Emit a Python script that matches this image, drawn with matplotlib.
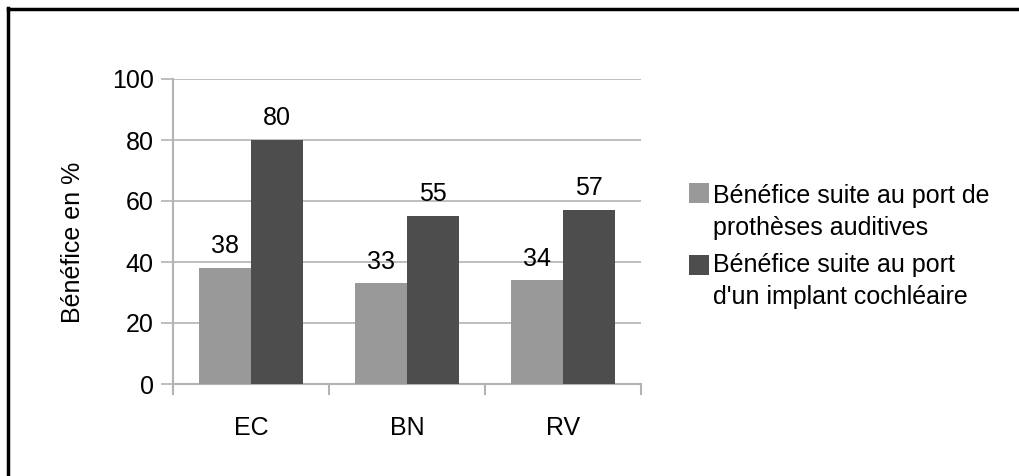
import matplotlib
matplotlib.use("Agg")
import matplotlib.pyplot as plt
import numpy as np
from matplotlib.lines import Line2D
from matplotlib.patches import Rectangle

plt.rcParams['font.family'] = ['Liberation Sans', 'DejaVu Sans']

categories = ["EC", "BN", "RV"]
protheses = [38, 33, 34]
implant = [80, 55, 57]
series_labels = ["Bénéfice suite au port de\nprothèses auditives",
                 "Bénéfice suite au port\nd'un implant cochléaire"]
series_colors = ["#999999", "#4d4d4d"]
yticks = [0, 20, 40, 60, 80, 100]

W, H = 1020, 476
FS = 18

fig = plt.figure(figsize=(W / 100, H / 100), dpi=100)
ax = fig.add_axes([173 / W, 1 - 384 / H, (641 - 173) / W, (384 - 79) / H])

x = np.arange(len(categories))
w = 1 / 3
b1 = ax.bar(x - w / 2, protheses, w, color=series_colors[0], zorder=3)
b2 = ax.bar(x + w / 2, implant, w, color=series_colors[1], zorder=3)

for bars, vals in ((b1, protheses), (b2, implant)):
    for r, v in zip(bars, vals):
        ax.text(r.get_x() + r.get_width() / 2, v + 3.2, str(v), ha="center", va="bottom",
                fontsize=FS, color="black")

ax.set_xlim(-0.5, 2.5)
ax.set_ylim(0, 100)
ax.set_yticks(yticks)
ax.set_yticklabels([str(t) for t in yticks], fontsize=FS)
ax.set_xticks(x)
ax.set_xticklabels(categories, fontsize=FS)
ax.tick_params(axis="x", length=0, pad=23)
ax.tick_params(axis="y", length=9, color="#b3b3b3", width=1.2, pad=5)
# category separators below the baseline
for xb in (-0.5, 0.5, 1.5, 2.5):
    ax.plot([xb, xb], [0, -3.2], color="#b3b3b3", lw=1.5, clip_on=False, zorder=2)
ax.grid(axis="y", color="#b3b3b3", lw=1.2, zorder=0)
for s in ("top", "right"):
    ax.spines[s].set_visible(False)
for s in ("left", "bottom"):
    ax.spines[s].set_color("#b3b3b3")
    ax.spines[s].set_linewidth(1.5)

ax.set_ylabel("Bénéfice en %", fontsize=FS)
ax.yaxis.set_label_coords((85 - 173) / (641 - 173), 0.465)

# legend: square aligned with the first line of each label
sq_tops = [183, 255]
text_centers = [212, 281]
for lab, col, top, tc in zip(series_labels, series_colors, sq_tops, text_centers):
    fig.add_artist(Rectangle((689 / W, 1 - (top + 20) / H), 20 / W, 20 / H,
                             transform=fig.transFigure, facecolor=col, edgecolor="none"))
    fig.text(713 / W, 1 - tc / H, lab, fontsize=FS, ha="left", va="center",
             linespacing=1.38)

# outer frame
fig.add_artist(Line2D([8 / W, 8 / W], [0, 1 - 8 / H], transform=fig.transFigure,
                      color="black", lw=2.5))
fig.add_artist(Line2D([8 / W, 1], [1 - 9 / H, 1 - 9 / H], transform=fig.transFigure,
                      color="black", lw=2.5))

fig.savefig("out.png", dpi=100, facecolor="white")
